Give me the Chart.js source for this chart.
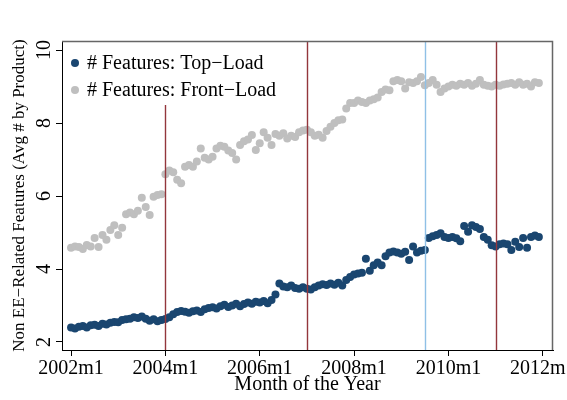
<!DOCTYPE html>
<html>
<head>
<meta charset="utf-8">
<script src="https://cdn.jsdelivr.net/npm/chart.js@4/dist/chart.umd.min.js"></script>
<style>
  html, body { margin: 0; padding: 0; background: #fff; }
  #wrap { width: 567px; height: 400px; }
</style>
</head>
<body>
<div id="wrap"><canvas id="chart" width="567" height="400"></canvas></div>
<script>
// Monthly averages, 2002m1 .. 2011m12 (one value per month, 12 per row)
const topLoad = [
  2.40, 2.37, 2.42, 2.44, 2.40, 2.46, 2.47, 2.44, 2.50, 2.48, 2.53, 2.55,
  2.54, 2.60, 2.62, 2.64, 2.68, 2.66, 2.70, 2.64, 2.58, 2.62, 2.57, 2.60,
  2.63, 2.68, 2.76, 2.82, 2.85, 2.83, 2.80, 2.84, 2.86, 2.82, 2.90, 2.93,
  2.95, 2.92, 2.98, 3.02, 2.96, 3.00, 3.05, 2.98, 3.04, 3.08, 3.05, 3.10,
  3.08, 3.12, 3.06, 3.15, 3.30, 3.60, 3.52, 3.50, 3.55, 3.48, 3.46, 3.50,
  3.46, 3.44, 3.50, 3.55, 3.58, 3.56, 3.60, 3.57, 3.62, 3.55, 3.70, 3.78,
  3.85, 3.88, 3.90, 4.28, 3.95, 4.10, 4.18, 4.10, 4.35, 4.45, 4.48, 4.45,
  4.42, 4.47, 4.25, 4.62, 4.45, 4.50, 4.52, 4.85, 4.90, 4.93, 4.98, 4.88,
  4.85, 4.88, 4.84, 4.76, 5.18, 5.02, 5.20, 5.15, 5.10, 4.88, 4.80, 4.65,
  4.62, 4.68, 4.70, 4.68, 4.52, 4.75, 4.60, 4.85, 4.58, 4.88, 4.92, 4.88
];
const frontLoad = [
  4.58, 4.62, 4.60, 4.55, 4.66, 4.62, 4.85, 4.60, 4.93, 4.80, 5.07, 5.20,
  4.93, 5.13, 5.50, 5.55, 5.50, 5.60, 5.95, 5.70, 5.48, 5.98, 6.03, 6.05,
  6.60, 6.70, 6.65, 6.45, 6.35, 6.80, 6.85, 6.80, 6.95, 7.30, 7.05, 7.00,
  7.08, 7.30, 7.38, 7.35, 7.25, 7.18, 7.00, 7.40, 7.50, 7.55, 7.67, 7.26,
  7.45, 7.75, 7.60, 7.40, 7.70, 7.65, 7.72, 7.58, 7.65, 7.62, 7.75, 7.80,
  7.82, 7.75, 7.65, 7.68, 7.60, 7.78, 7.90, 8.00, 8.08, 8.10, 8.40, 8.55,
  8.55, 8.62, 8.58, 8.55, 8.62, 8.65, 8.70, 8.85, 8.92, 8.90, 9.15, 9.18,
  9.15, 8.95, 9.12, 9.10, 9.15, 9.26, 9.04, 9.10, 9.18, 9.05, 8.85, 8.95,
  9.00, 9.05, 9.02, 9.08, 9.05, 9.10, 9.02, 9.08, 9.18, 9.05, 9.02, 9.00,
  9.05, 9.02, 9.06, 9.08, 9.10, 9.05, 9.12, 9.05, 9.08, 9.00, 9.12, 9.10
];

const seriesLabels = ['# Features: Top\u2212Load', '# Features: Front\u2212Load'];

// Month labels "2002m1" ... "2012m12"
const months = [];
for (let y = 2002; y <= 2012; y++) for (let m = 1; m <= 12; m++) months.push(y + 'm' + m);

const xTickLabels = ['2002m1', '2004m1', '2006m1', '2008m1', '2010m1', '2012m1'];
const yTicks = [2, 4, 6, 8, 10];
const eventMonths = ['2004m1', '2007m1', '2009m7', '2011m1'];
const eventColors = ['#93363c', '#93363c', '#8fc0e6', '#93363c'];

const NAVY = '#1a4670';
const GRAY = '#bfbfbf';
const SERIF = '"Liberation Serif", "Times New Roman", serif';

const toPoints = arr => arr.map((v, i) => ({ x: i, y: v }));
const monthIndex = label => months.indexOf(label);

// Event lines, legend inside the plot (top-left), and the top/right frame
const decorations = {
  id: 'decorations',
  afterDatasetsDraw(chart) {
    const { ctx, chartArea: a, scales: { x } } = chart;
    const legX = a.left + 13, legY = a.top + 22, legStep = 27;
    const legRight = a.left + 225, legBottom = a.top + 64;

    ctx.save();
    ctx.lineWidth = 1.4;
    eventMonths.forEach((m, i) => {
      const px = Math.round(x.getPixelForValue(monthIndex(m))) + 0.5;
      const top = (px < legRight) ? legBottom : a.top;
      ctx.strokeStyle = eventColors[i];
      ctx.beginPath();
      ctx.moveTo(px, top);
      ctx.lineTo(px, a.bottom);
      ctx.stroke();
    });

    const ds = chart.data.datasets;
    ctx.font = '20px ' + SERIF;
    ctx.textBaseline = 'middle';
    ctx.textAlign = 'left';
    ds.forEach((d, i) => {
      const cy = legY + i * legStep;
      ctx.fillStyle = d.backgroundColor;
      ctx.beginPath();
      ctx.arc(legX, cy, 4, 0, Math.PI * 2);
      ctx.fill();
      ctx.fillStyle = '#000';
      ctx.fillText(d.label, legX + 12, cy + 1);
    });

    ctx.strokeStyle = '#666';
    ctx.lineWidth = 1.5;
    ctx.beginPath();
    ctx.moveTo(a.left, a.top + 0.5);
    ctx.lineTo(a.right - 0.5, a.top + 0.5);
    ctx.lineTo(a.right - 0.5, a.bottom);
    ctx.stroke();
    ctx.restore();
  }
};

new Chart(document.getElementById('chart'), {
  type: 'scatter',
  data: {
    datasets: [
      { label: seriesLabels[0], data: toPoints(topLoad), backgroundColor: NAVY, borderWidth: 0,
        pointRadius: 4, pointHoverRadius: 4 },
      { label: seriesLabels[1], data: toPoints(frontLoad), backgroundColor: GRAY, borderWidth: 0,
        pointRadius: 4, pointHoverRadius: 4 }
    ]
  },
  options: {
    responsive: false,
    animation: false,
    events: [],
    layout: { padding: { top: 41, right: 14, left: 0, bottom: 0 } },
    plugins: {
      tooltip: { enabled: false },
      legend: { display: false }
    },
    scales: {
      x: {
        type: 'linear',
        min: -2.3,
        max: 122.6,
        afterBuildTicks(scale) {
          scale.ticks = xTickLabels.map(l => ({ value: monthIndex(l) }));
        },
        afterFit(scale) {
          scale.height = 50;
          scale.paddingLeft = 0;
          scale.paddingRight = 0;
        },
        ticks: {
          autoSkip: false,
          maxRotation: 0,
          padding: 1,
          color: '#000',
          font: { family: SERIF, size: 20 },
          callback: v => months[v]
        },
        grid: { drawOnChartArea: false, drawTicks: true, tickLength: 6, color: '#000' },
        border: { display: true, color: '#000', width: 1 },
        title: {
          display: true,
          text: 'Month of the Year',
          color: '#000',
          font: { family: SERIF, size: 20 },
          padding: { top: 0, bottom: 3 }
        }
      },
      y: {
        min: 1.78,
        max: 10.25,
        afterBuildTicks(scale) {
          scale.ticks = yTicks.map(v => ({ value: v }));
        },
        afterFit(scale) {
          scale.width = 62;
          scale.paddingTop = 0;
          scale.paddingBottom = 0;
        },
        ticks: {
          minRotation: 90,
          maxRotation: 90,
          crossAlign: 'center',
          padding: 1,
          color: '#000',
          font: { family: SERIF, size: 20 }
        },
        grid: { drawOnChartArea: false, drawTicks: true, tickLength: 6, color: '#000' },
        border: { display: true, color: '#000', width: 1 },
        title: {
          display: true,
          text: 'Non EE\u2212Related Features (Avg # by Product)',
          color: '#000',
          font: { family: SERIF, size: 17 },
          padding: { top: 9, bottom: 0 }
        }
      }
    }
  },
  plugins: [decorations]
});
</script>
</body>
</html>
